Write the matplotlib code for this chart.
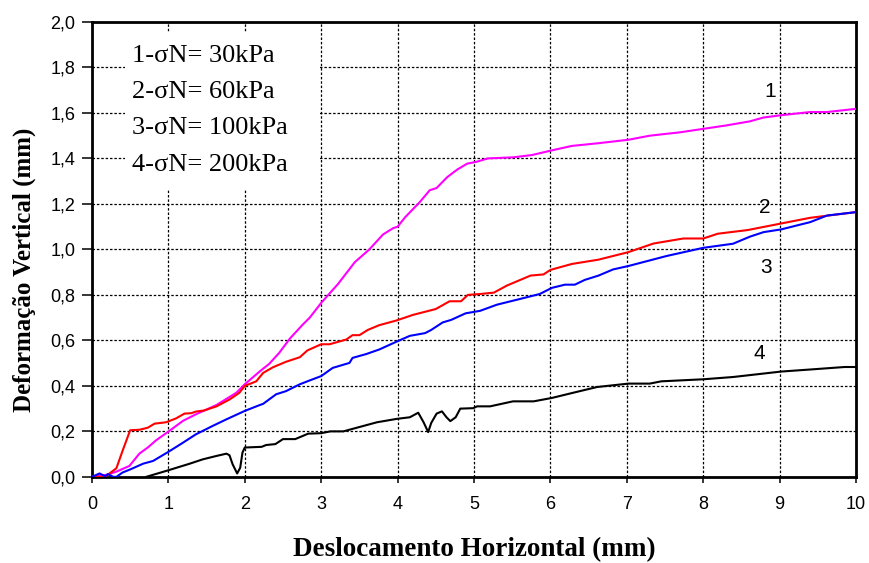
import matplotlib
matplotlib.use("Agg")
import matplotlib.pyplot as plt
from matplotlib.patches import Rectangle

# curve 1 - sigmaN = 30 kPa (magenta)
x1 = [0, 0.19, 0.32, 0.49, 0.62, 0.73, 0.84, 1.0, 1.19, 1.36, 1.63, 1.89, 2.0, 2.19, 2.32,
      2.45, 2.59, 2.76, 2.85, 3.0, 3.22, 3.44, 3.63, 3.81, 3.94, 4.0, 4.1, 4.29, 4.42, 4.51,
      4.65, 4.78, 4.91, 5.03, 5.18, 5.52, 5.76, 6.0, 6.28, 6.63, 7.02, 7.3, 7.7, 8.0, 8.3,
      8.61, 8.79, 9.02, 9.4, 9.62, 10.0]
y1 = [0, 0.009, 0.023, 0.048, 0.102, 0.129, 0.161, 0.199, 0.246, 0.275, 0.316, 0.37, 0.407,
      0.462, 0.497, 0.545, 0.608, 0.67, 0.70, 0.765, 0.848, 0.944, 1.0, 1.066, 1.093, 1.10,
      1.142, 1.208, 1.26, 1.27, 1.318, 1.351, 1.377, 1.385, 1.40, 1.405, 1.415, 1.434, 1.455,
      1.467, 1.482, 1.50, 1.515, 1.53, 1.545, 1.563, 1.58, 1.59, 1.604, 1.604, 1.618]

# curve 2 - 60 kPa (red)
x2 = [0, 0.17, 0.23, 0.32, 0.40, 0.50, 0.62, 0.73, 0.82, 0.97, 1.10, 1.21, 1.30, 1.36, 1.47,
      1.63, 1.80, 1.93, 2.0, 2.15, 2.24, 2.37, 2.54, 2.72, 2.82, 3.0, 3.11, 3.33, 3.41, 3.50,
      3.61, 3.76, 3.98, 4.2, 4.5, 4.68, 4.83, 4.92, 5.08, 5.26, 5.43, 5.74, 5.91, 6.0, 6.28,
      6.63, 7.02, 7.35, 7.74, 8.0, 8.19, 8.58, 9.02, 9.40, 10.0]
y2 = [0, 0.0, 0.015, 0.038, 0.114, 0.205, 0.207, 0.216, 0.234, 0.24, 0.257, 0.278, 0.28,
      0.287, 0.292, 0.31, 0.34, 0.37, 0.40, 0.42, 0.457, 0.482, 0.506, 0.526, 0.556, 0.583,
      0.583, 0.604, 0.623, 0.623, 0.646, 0.667, 0.687, 0.712, 0.738, 0.772, 0.772, 0.80,
      0.804, 0.81, 0.841, 0.885, 0.89, 0.91, 0.936, 0.955, 0.988, 1.026, 1.048, 1.048, 1.069,
      1.085, 1.114, 1.139, 1.164]

# curve 3 - 100 kPa (blue)
x3 = [0, 0.1, 0.17, 0.21, 0.28, 0.32, 0.40, 0.51, 0.67, 0.8, 1.0, 1.19, 1.36, 1.58, 1.76,
      2.0, 2.19, 2.24, 2.41, 2.54, 2.72, 2.85, 3.0, 3.15, 3.37, 3.41, 3.59, 3.76, 3.99, 4.16,
      4.36, 4.44, 4.59, 4.70, 4.89, 5.08, 5.30, 5.60, 5.86, 6.02, 6.19, 6.32, 6.45, 6.63,
      6.82, 7.02, 7.52, 8.0, 8.39, 8.61, 8.79, 9.02, 9.4, 9.62, 10.0]
y3 = [0, 0.015, 0.003, 0.012, 0, 0, 0.019, 0.034, 0.058, 0.07, 0.11, 0.15, 0.187, 0.224,
      0.253, 0.29, 0.315, 0.321, 0.363, 0.377, 0.407, 0.424, 0.443, 0.479, 0.501, 0.523,
      0.54, 0.56, 0.595, 0.62, 0.632, 0.646, 0.679, 0.69, 0.719, 0.73, 0.757, 0.782, 0.804,
      0.831, 0.845, 0.845, 0.866, 0.885, 0.912, 0.927, 0.971, 1.007, 1.025, 1.056, 1.076,
      1.088, 1.12, 1.149, 1.164]

# curve 4 - 200 kPa (black)
x4 = [0.71, 1.0, 1.28, 1.45, 1.63, 1.76, 1.80, 1.84, 1.90, 1.94, 1.97, 2.0, 2.22, 2.28,
      2.40, 2.50, 2.66, 2.83, 3.0, 3.12, 3.29, 3.51, 3.73, 3.99, 4.16, 4.27, 4.34, 4.40,
      4.44, 4.51, 4.58, 4.64, 4.69, 4.76, 4.82, 4.99, 5.04, 5.21, 5.51, 5.78, 6.02, 6.30,
      6.61, 7.02, 7.30, 7.45, 8.0, 8.39, 9.02, 9.40, 9.85, 10.0]
y4 = [0, 0.029, 0.058, 0.077, 0.092, 0.102, 0.095, 0.056, 0.015, 0.04, 0.107, 0.129, 0.132,
      0.14, 0.144, 0.166, 0.166, 0.19, 0.192, 0.20, 0.20, 0.22, 0.24, 0.255, 0.262, 0.282,
      0.24, 0.197, 0.237, 0.278, 0.288, 0.262, 0.245, 0.262, 0.30, 0.302, 0.31, 0.31, 0.332,
      0.332, 0.347, 0.37, 0.395, 0.41, 0.41, 0.42, 0.429, 0.439, 0.463, 0.472, 0.483, 0.483]

legend_lines = ["1-σN= 30kPa", "2-σN= 60kPa", "3-σN= 100kPa", "4-σN= 200kPa"]
curve_tags = ["1", "2", "3", "4"]
tag_x = [8.88, 8.80, 8.82, 8.73]
tag_y = [1.695, 1.183, 0.92, 0.543]

xticks = list(range(0, 11))
yticks = [0.0, 0.2, 0.4, 0.6, 0.8, 1.0, 1.2, 1.4, 1.6, 1.8, 2.0]

plt.rcParams['font.family'] = ['Liberation Sans', 'DejaVu Sans']
serif = ['Liberation Serif', 'DejaVu Serif']

fig = plt.figure(figsize=(8.7, 5.63), dpi=100)
ax = fig.add_axes([0.1057, 0.153, 0.8783, 0.808])

ax.plot(x1, y1, color='#ff00ff', lw=1.5, zorder=3)
ax.plot(x2, y2, color='#ff0000', lw=1.5, zorder=3)
ax.plot(x3, y3, color='#0000ff', lw=1.5, zorder=3)
ax.plot(x4, y4, color='black', lw=1.5, zorder=3)

ax.set_xlim(0, 10)
ax.set_ylim(0, 2.0)
ax.set_xticks(xticks)
ax.set_yticks(yticks)
ax.set_yticklabels([f"{v:.1f}".replace('.', ',') for v in yticks])
ax.tick_params(direction='out', width=1.1, labelsize=13)
ax.tick_params(axis='y', length=7, pad=5)
ax.tick_params(axis='x', length=4.5, pad=9.5)

ax.set_axisbelow(True)
ax.grid(True, color='black', linestyle=(0, (2, 1.5)), lw=0.9)
for s in ax.spines.values():
    s.set_linewidth(2)

# white box behind the series list
ax.add_patch(Rectangle((0.43, 1.26), 2.55, 0.695, facecolor='white', edgecolor='none', zorder=1.5))
for i, t in enumerate(legend_lines):
    ax.text(0.52, 1.85 - i * 0.159, t, family=serif,
            fontsize=19, va='center', ha='left', zorder=4)

for t, tx, ty in zip(curve_tags, tag_x, tag_y):
    ax.text(tx, ty, t, fontsize=15, ha='center', va='center', zorder=4)

ax.set_xlabel('Deslocamento Horizontal (mm)', family=serif,
              fontsize=19.5, fontweight='bold', va='center')
ax.xaxis.set_label_coords(0.5, -0.16)
ax.set_ylabel('Deformação Vertical (mm)', family=serif,
              fontsize=18, fontweight='bold', va='center')
ax.yaxis.set_label_coords(-0.088, 0.455)

fig.savefig('out.png', dpi=100)
